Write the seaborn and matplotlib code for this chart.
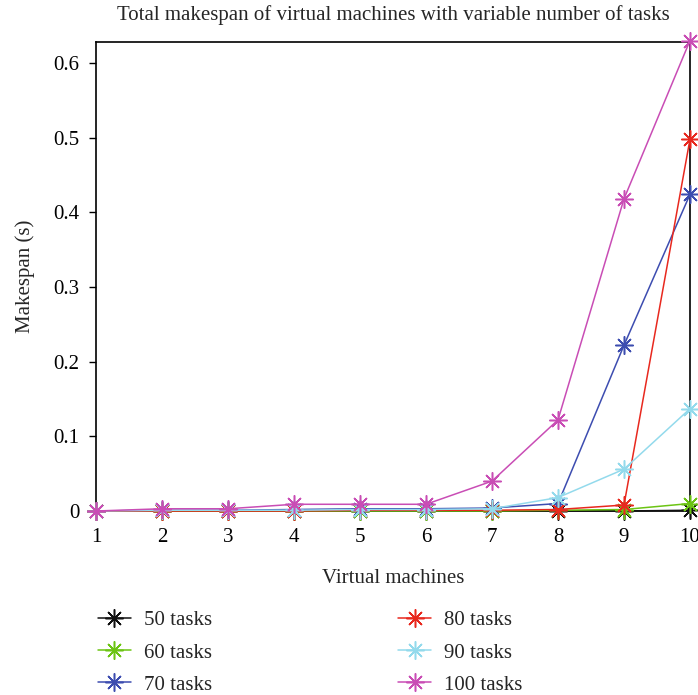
import numpy as np
import pandas as pd
import seaborn as sns
import matplotlib
matplotlib.use("Agg")
import matplotlib.pyplot as plt

vms = [1, 2, 3, 4, 5, 6, 7, 8, 9, 10]
series_names = ["50 tasks", "60 tasks", "70 tasks", "80 tasks", "90 tasks", "100 tasks"]
t50 = [0.0, 0.0, 0.0, 0.0, 0.0, 0.0, 0.0, 0.0, 0.0, 0.001]
t60 = [0.0, 0.0, 0.0, 0.0, 0.0, 0.0, 0.0, 0.001, 0.002, 0.010]
t70 = [0.0, 0.001, 0.001, 0.002, 0.003, 0.003, 0.004, 0.010, 0.222, 0.424]
t80 = [0.0, 0.0, 0.0, 0.0, 0.001, 0.001, 0.001, 0.002, 0.008, 0.498]
t90 = [0.0, 0.001, 0.001, 0.001, 0.002, 0.002, 0.003, 0.018, 0.056, 0.137]
t100 = [0.0, 0.003, 0.003, 0.009, 0.009, 0.009, 0.040, 0.122, 0.418, 0.630]
colors = ["#111111", "#6cc414", "#3d4db0", "#e8281e", "#93daec", "#c94db5"]

rows = []
for name, vals in zip(series_names, [t50, t60, t70, t80, t90, t100]):
    for x, y in zip(vms, vals):
        rows.append({"Virtual machines": x, "Makespan": y, "series": name})
df = pd.DataFrame(rows)

sns.set_style("ticks")
plt.rcParams["font.family"] = ["Liberation Serif", "DejaVu Serif"]

fig = plt.figure(figsize=(6.98, 6.95), dpi=100)
ax = fig.add_axes([96/698, 1-511/695, (690-96)/698, (511-42)/695])

sns.lineplot(data=df, x="Virtual machines", y="Makespan", hue="series",
             hue_order=series_names, palette=colors, marker=(8, 2, 0),
             markersize=13, markeredgewidth=1.1, linewidth=1.1, ax=ax, legend=True)
for ln in ax.lines:
    ln.set_markeredgecolor(ln.get_color())
    ln.set_clip_on(False)

ax.set_xlim(1, 10)
ax.set_ylim(0, 0.628)
ax.set_xticks(vms)
ax.set_xticklabels([str(v) for v in vms])
ax.set_yticks([0, 0.1, 0.2, 0.3, 0.4, 0.5, 0.6])
ax.set_yticklabels(["0", "0.1", "0.2", "0.3", "0.4", "0.5", "0.6"])
for s in ax.spines.values():
    s.set_visible(True)
    s.set_linewidth(1.2)
    s.set_color("black")
    s.set_zorder(1)
ax.tick_params(labelsize=15, direction="out", length=5, width=1, colors="black", pad=7)
ax.set_xlabel("Virtual machines", fontsize=15, labelpad=16)
ax.set_ylabel("Makespan (s)", fontsize=15, labelpad=13)
ax.set_title("Total makespan of virtual machines with variable number of tasks",
             fontsize=15, pad=16)

handles, labels = ax.get_legend_handles_labels()
for h in handles:
    h.set_markeredgecolor(h.get_color())
ax.get_legend().remove()
fig.legend(handles, labels, ncol=2, frameon=False, fontsize=15,
           loc="upper left", bbox_to_anchor=(0.128, 0.133),
           columnspacing=8.95, handlelength=1.6, labelspacing=0.6,
           borderaxespad=0, handletextpad=0.6)

fig.savefig("out.png", dpi=100)
